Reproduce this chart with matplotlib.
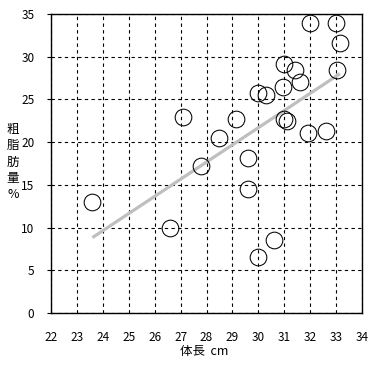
import numpy as np
import matplotlib
matplotlib.use("Agg")
import matplotlib.pyplot as plt

plt.rcParams['font.family'] = ['Noto Sans CJK JP', 'DejaVu Sans']

# data: body length (cm) vs crude fat (%)
body_length = [23.6, 26.6, 27.1, 27.8, 28.5, 29.15, 29.6, 29.6, 30.0, 30.3,
               30.0, 30.6, 31.0, 30.95, 31.0, 31.1, 31.4, 31.6, 31.9, 32.0,
               32.6, 33.0, 33.15, 33.05]
crude_fat = [13.0, 10.0, 23.0, 17.2, 20.5, 22.7, 18.1, 14.5, 25.8, 25.5,
             6.5, 8.5, 29.2, 26.4, 22.7, 22.5, 28.4, 27.0, 21.1, 33.9,
             21.3, 34.0, 31.6, 28.4]
x_ticks = list(range(22, 35))
y_ticks = list(range(0, 36, 5))

fig = plt.figure(figsize=(3.75, 3.70), dpi=100)
ax = fig.add_axes([51/375, 1-313/370, (362-51)/375, (313-14)/370])

ax.set_xlim(22, 34)
ax.set_ylim(0, 35)
ax.set_xticks(x_ticks)
ax.set_yticks(y_ticks)
ax.grid(True, color='black', linestyle=(0, (3, 3)), linewidth=0.8)
ax.set_axisbelow(True)

# trend line (least squares fit)
slope, intercept = np.polyfit(body_length, crude_fat, 1)
xs = np.array([min(body_length), max(body_length)])
ax.plot(xs, slope*xs + intercept, color='#bfbfbf', linewidth=2.3, zorder=3,
        solid_capstyle='butt')

ax.plot(body_length, crude_fat, linestyle='none', marker='o', markersize=12,
        markerfacecolor='none', markeredgecolor='black', markeredgewidth=0.75,
        zorder=4)

for s in ax.spines.values():
    s.set_linewidth(1.0)
    s.set_color('black')

ax.tick_params(axis='x', length=0, pad=13, labelsize=8.5)
ax.tick_params(axis='y', length=3, direction='out', pad=9, labelsize=8.5)

fig.text(180/375, 1-352/370, '体長  cm', ha='left', va='center', fontsize=9)
fig.text(13/375, 1-162/370, '粗\n脂\n肪\n量\n%', ha='center', va='center',
         fontsize=9, linespacing=1.35)

fig.savefig('out.png', dpi=100, facecolor='white')
